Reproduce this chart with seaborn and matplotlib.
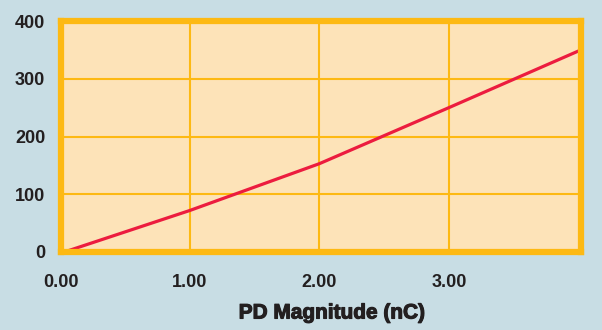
import matplotlib
matplotlib.use("Agg")
import matplotlib.pyplot as plt
import matplotlib.patheffects as pe
import seaborn as sns
import pandas as pd

# PD magnitude (nC) versus response
pd_magnitude = [0.03, 1.0, 2.0, 3.0, 4.02]
response = [0, 72, 153, 250, 350]
x_ticks = [0, 1, 2, 3]
x_tick_labels = ["0.00", "1.00", "2.00", "3.00"]
y_ticks = [0, 100, 200, 300, 400]

BG = "#c8dde4"
PANEL = "#fde3b8"
ORANGE = "#fdb913"
RED = "#ec1c3f"
TEXT = "#231f20"

sns.set_theme(style="white")
plt.rcParams["font.family"] = ["Liberation Sans", "DejaVu Sans"]

fig = plt.figure(figsize=(6.02, 3.30), dpi=100, facecolor=BG)
ax = fig.add_axes([60.5 / 602, (330 - 252) / 330, (581 - 60.5) / 602, (252 - 21) / 330])
ax.set_facecolor(PANEL)

df = pd.DataFrame({"x": pd_magnitude, "y": response})
sns.lineplot(data=df, x="x", y="y", ax=ax, color=RED, linewidth=2.3, zorder=3)

ax.set_xlim(0, 4.02)
ax.set_ylim(0, 400)
ax.set_xticks(x_ticks)
ax.set_xticklabels(x_tick_labels)
ax.set_yticks(y_ticks)

ax.grid(True, color=ORANGE, linewidth=1.5)
ax.set_axisbelow(True)
for s in ax.spines.values():
    s.set_visible(True)
    s.set_color(ORANGE)
    s.set_linewidth(4.5)
    s.set_zorder(5)

ax.tick_params(axis="both", length=0, labelsize=13, labelcolor=TEXT)
ax.tick_params(axis="y", pad=11)
ax.tick_params(axis="x", pad=16)
for lbl in ax.get_xticklabels() + ax.get_yticklabels():
    lbl.set_fontweight("bold")

ax.set_ylabel("")
ax.set_xlabel("PD Magnitude (nC)", fontsize=15, fontweight="bold", color=TEXT,
              path_effects=[pe.withStroke(linewidth=0.8, foreground=TEXT)])
ax.xaxis.set_label_coords((332 - 60.5) / (581 - 60.5), -(313 - 252) / (252 - 21))
ax.xaxis.label.set_va("center")

fig.savefig("out.png", dpi=100, facecolor=BG)
